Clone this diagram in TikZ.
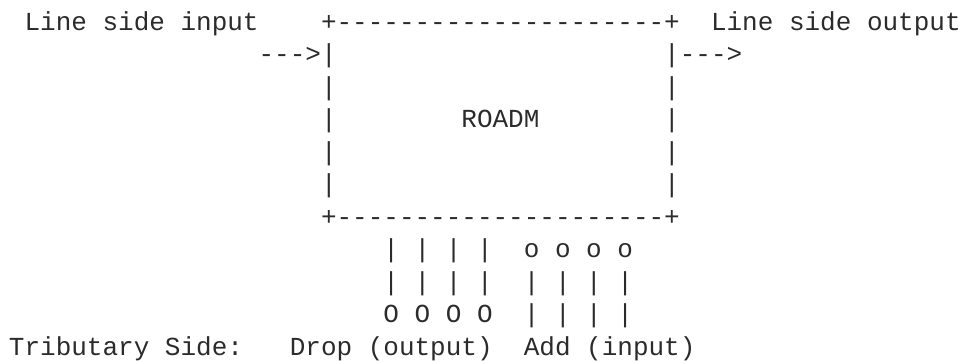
\documentclass[tikz,border=0pt]{standalone}
\usepackage{fontspec}
\setmonofont{Liberation Mono}
\definecolor{ink}{HTML}{2B2B2B}
\begin{document}
\begin{tikzpicture}[x=1pt,y=1pt,
  txt/.style={anchor=base west, inner sep=0pt, outer sep=0pt, text=ink,
    font=\ttfamily\fontsize{26}{26}\selectfont}]
\useasboundingbox (0,0) rectangle (962,360);
% row 0
\node[txt] (lsi) at ({9+15.6*1},{330-32.5*0}) {Line side input};
\node[txt] (top) at ({9+15.6*20},{330-32.5*0}) {+---------------------+};
\node[txt] (lso) at ({9+15.6*45},{330-32.5*0}) {Line side output};
% row 1
\node[txt] (inarr) at ({9+15.6*16},{330-32.5*1}) {--->};
\node[txt] (l1) at ({9+15.6*20},{330-32.5*1}) {|};
\node[txt] (r1) at ({9+15.6*42},{330-32.5*1}) {|};
\node[txt] (outarr) at ({9+15.6*43},{330-32.5*1}) {--->};
% rows 2-5
\node[txt] (l2) at ({9+15.6*20},{330-32.5*2}) {|};
\node[txt] (r2) at ({9+15.6*42},{330-32.5*2}) {|};
\node[txt] (l3) at ({9+15.6*20},{330-32.5*3}) {|};
\node[txt] (roadm) at ({9+15.6*29},{330-32.5*3}) {ROADM};
\node[txt] (r3) at ({9+15.6*42},{330-32.5*3}) {|};
\node[txt] (l4) at ({9+15.6*20},{330-32.5*4}) {|};
\node[txt] (r4) at ({9+15.6*42},{330-32.5*4}) {|};
\node[txt] (l5) at ({9+15.6*20},{330-32.5*5}) {|};
\node[txt] (r5) at ({9+15.6*42},{330-32.5*5}) {|};
% row 6
\node[txt] (bot) at ({9+15.6*20},{330-32.5*6}) {+---------------------+};
% rows 7-9
\node[txt] (drop1) at ({9+15.6*24},{330-32.5*7}) {| | | |};
\node[txt] (add1) at ({9+15.6*33},{330-32.5*7}) {o o o o};
\node[txt] (drop2) at ({9+15.6*24},{330-32.5*8}) {| | | |};
\node[txt] (add2) at ({9+15.6*33},{330-32.5*8}) {| | | |};
\node[txt] (drop3) at ({9+15.6*24},{330-32.5*9}) {O O O O};
\node[txt] (add3) at ({9+15.6*33},{330-32.5*9}) {| | | |};
% row 10
\node[txt] (trib) at ({9+15.6*0},{330-32.5*10}) {Tributary Side:};
\node[txt] (droplbl) at ({9+15.6*18},{330-32.5*10}) {Drop (output)};
\node[txt] (addlbl) at ({9+15.6*33},{330-32.5*10}) {Add (input)};
\end{tikzpicture}
\end{document}
